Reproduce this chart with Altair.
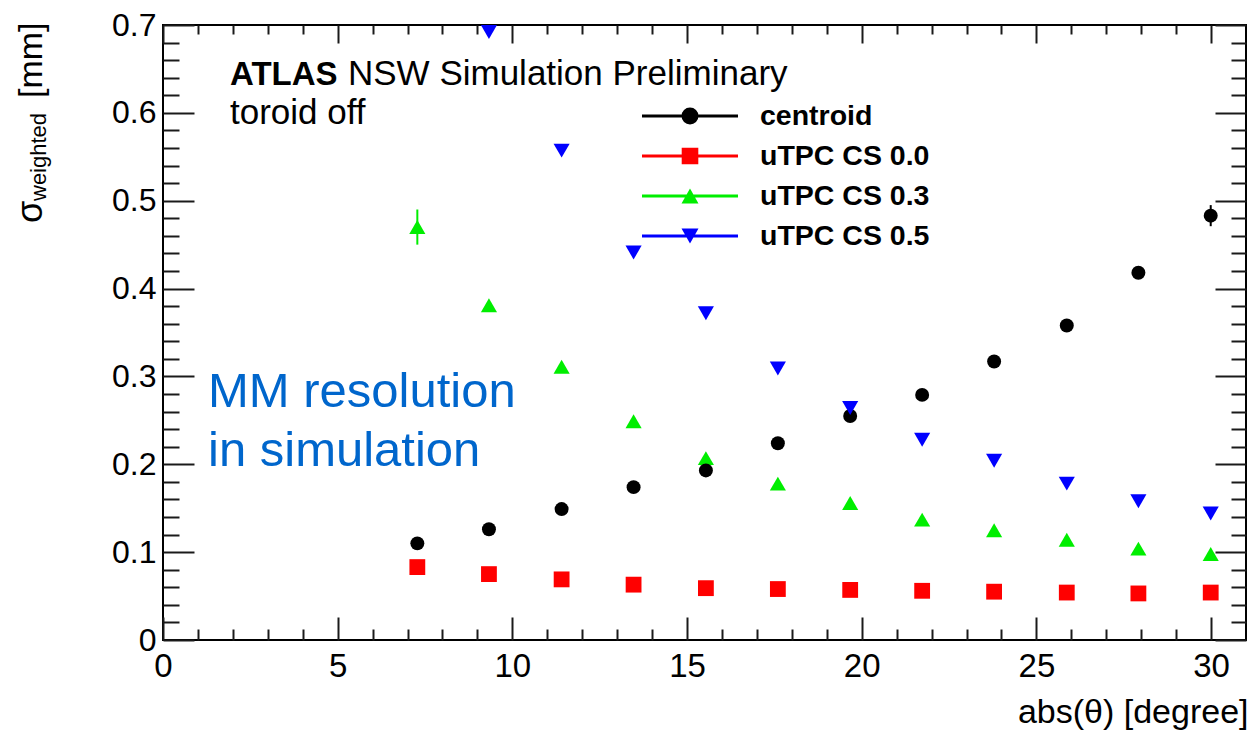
import math
import altair as alt
import pandas as pd

# ---------------- data ----------------
theta = [7.28, 9.33, 11.41, 13.47, 15.54, 17.60, 19.67, 21.73, 23.79, 25.87, 27.92, 29.99]
centroid = [0.110, 0.126, 0.149, 0.174, 0.193, 0.224, 0.255, 0.279, 0.317, 0.358, 0.418, 0.483]
centroid_err = [0.002, 0.002, 0.002, 0.003, 0.003, 0.003, 0.004, 0.004, 0.005, 0.005, 0.006, 0.012]
cs00 = [0.083, 0.075, 0.069, 0.063, 0.059, 0.058, 0.057, 0.056, 0.055, 0.054, 0.053, 0.054]
cs00_err = [0.001, 0.001, 0.001, 0.001, 0.001, 0.001, 0.001, 0.001, 0.001, 0.001, 0.001, 0.001]
cs03 = [0.470, 0.381, 0.311, 0.249, 0.207, 0.178, 0.156, 0.137, 0.125, 0.114, 0.104, 0.098]
cs03_err = [0.020, 0.004, 0.003, 0.003, 0.002, 0.002, 0.002, 0.002, 0.002, 0.002, 0.002, 0.002]
cs05 = [None, 0.692, 0.557, 0.441, 0.372, 0.309, 0.264, 0.228, 0.204, 0.178, 0.158, 0.144]
cs05_err = [None, 0.004, 0.004, 0.004, 0.004, 0.003, 0.003, 0.003, 0.002, 0.002, 0.002, 0.002]

series_names = ["centroid", "uTPC CS 0.0", "uTPC CS 0.3", "uTPC CS 0.5"]
series_colors = ["#000000", "#ff0000", "#00ee00", "#0000ff"]

x_major = [0, 5, 10, 15, 20, 25, 30]
x_minor = [i for i in range(0, 31) if i % 5 != 0]
y_major = [0, 0.1, 0.2, 0.3, 0.4, 0.5, 0.6, 0.7]
y_minor = [round(i * 0.02, 2) for i in range(0, 36) if i % 5 != 0]

# ---------------- table ----------------
rows = []
for name, vals, errs in zip(series_names, [centroid, cs00, cs03, cs05],
                            [centroid_err, cs00_err, cs03_err, cs05_err]):
    for t, v, e in zip(theta, vals, errs):
        if v is None:
            continue
        rows.append({"theta": t, "sigma": v, "lo": v - e, "hi": v + e, "series": name})
df = pd.DataFrame(rows)

# ---------------- layout constants ----------------
W, H = 1083, 615
FONT = "Liberation Sans"
TICK = "#1a1a1a"

xs = alt.Scale(domain=[0, 31], nice=False, zero=False)
ys = alt.Scale(domain=[0, 0.7], nice=False, zero=False)
color_scale = alt.Scale(domain=series_names, range=series_colors)


def tick_axis(orient, offset, values, size):
    return alt.Axis(orient=orient, offset=offset, values=values, tickSize=size,
                    tickWidth=2, tickColor=TICK, labels=False, domain=False,
                    grid=False, title=None)


ax_labels = alt.Axis(orient="bottom", values=x_major, ticks=False, domain=False, grid=False,
                     labelFont=FONT, labelFontSize=33, labelColor="#000", labelPadding=10,
                     labelFlush=False, labelOverlap=False, format="d",
                     title="abs(θ) [degree]", titleFont=FONT, titleFontSize=34,
                     titleFontWeight="normal", titleColor="#000", titleAlign="right",
                     titleAnchor="end", titleBaseline="alphabetic", titleX=W + 2, titleY=82)
ay_labels = alt.Axis(orient="left", values=y_major, ticks=False, domain=False, grid=False,
                     labelFont=FONT, labelFontSize=32, labelColor="#000", labelPadding=7,
                     labelFlush=False, labelOverlap=False,
                     labelExpr="datum.value == 0 ? '0' : format(datum.value, '.1f')",
                     title=None)

ax_bot_major = tick_axis("top", -H, x_major, 23)
ax_bot_minor = tick_axis("top", -H, x_minor, 11)
ax_top_major = tick_axis("bottom", -H, x_major, 18)
ax_top_minor = tick_axis("bottom", -H, x_minor, 9)
ay_left_major = tick_axis("right", -W, y_major, 31)
ay_left_minor = tick_axis("right", -W, y_minor, 16)
ay_right_major = tick_axis("left", -W, y_major, 31)
ay_right_minor = tick_axis("left", -W, y_minor, 15)

# ---------------- legend symbols: line with marker ----------------
SYM = 729
K = math.sqrt(SYM) / 2.0


def f(v):
    return f"{v / K:.4f}"


def circle(r):
    return f"M{f(r)},0A{f(r)},{f(r)},0,1,1,{f(-r)},0A{f(r)},{f(r)},0,1,1,{f(r)},0Z"


def square(h):
    return f"M{f(-h)},{f(-h)}H{f(h)}V{f(h)}H{f(-h)}Z"


def poly(pts):
    return "M" + "L".join(f"{f(x)},{f(y)}" for x, y in pts) + "Z"


line = f"M{f(-48)},0H{f(48)}"
tri_up_outer = [(0, -4.4), (5.9, 5.9), (-5.9, 5.9)]
tri_up_inner = [(0, 0.2), (2.1, 3.8), (-2.1, 3.8)]
legend_paths = [
    line + circle(7.0) + circle(4.0) + circle(1.2),
    line + square(6.8) + square(3.8) + square(1.0),
    line + poly(tri_up_outer) + poly(tri_up_inner),
    line + poly([(x, -y) for x, y in tri_up_outer]) + poly([(x, -y) for x, y in tri_up_inner]),
]

leg = alt.Legend(title=None, orient="none", legendX=512, legendY=76, direction="vertical",
                 symbolSize=SYM, symbolStrokeWidth=3, symbolOpacity=1,
                 labelFont=FONT, labelFontSize=28.5, labelFontWeight="bold", labelColor="#000",
                 labelLimit=400, labelOffset=55, rowPadding=10, padding=0)

# ---------------- layers ----------------
legend_layer = alt.Chart(pd.DataFrame({"series": series_names})).mark_point(
    filled=False, opacity=0
).encode(
    color=alt.Color("series:N", scale=color_scale, legend=leg),
    shape=alt.Shape("series:N", scale=alt.Scale(domain=series_names, range=legend_paths), legend=leg),
)

err_layer = alt.Chart(df).mark_rule(strokeWidth=2).encode(
    x=alt.X("theta:Q", scale=xs, axis=ax_top_minor),
    y=alt.Y("lo:Q", scale=ys, axis=ay_right_minor),
    y2="hi:Q",
    color=alt.Color("series:N", scale=color_scale, legend=None),
)


def points(name, shape, color, size, xaxis, yaxis):
    return alt.Chart(df).transform_filter(alt.datum.series == name).mark_point(
        filled=True, shape=shape, color=color, size=size, opacity=1
    ).encode(
        x=alt.X("theta:Q", scale=xs, axis=xaxis),
        y=alt.Y("sigma:Q", scale=ys, axis=yaxis),
    )


red_layer = points("uTPC CS 0.0", "square", "#ff0000", 250, ax_bot_major, ay_left_major)
green_layer = points("uTPC CS 0.3", "triangle-up", "#00ee00", 260, ax_bot_minor, ay_left_minor)
black_layer = points("centroid", "circle", "#000000", 195, ax_labels, ay_labels)
blue_layer = points("uTPC CS 0.5", "triangle-down", "#0000ff", 260, ax_top_major, ay_right_major)


def note(text, x, y, size, weight="normal", color="#000", angle=0):
    return alt.Chart(alt.Data(values=[{"t": text}])).mark_text(
        font=FONT, fontSize=size, fontWeight=weight, color=color, align="left",
        baseline="alphabetic", angle=angle
    ).encode(text="t:N", x=alt.value(x), y=alt.value(y))


notes = [
    note("ATLAS", 67, 60, 33, weight="bold"),
    note("NSW Simulation Preliminary", 185, 60, 35),
    note("toroid off", 67, 99, 35),
    note("MM resolution", 45, 382, 49, color="#0066cc"),
    note("in simulation", 45, 441, 49, color="#0066cc"),
    note("σ", -121, 198, 36, angle=270),
    note("weighted", -117, 176, 22, angle=270),
    note("[mm]", -121, 73, 34, angle=270),
]

chart = alt.layer(
    legend_layer, err_layer, red_layer, green_layer, black_layer, blue_layer, *notes
).resolve_axis(
    x="independent", y="independent"
).properties(
    width=W, height=H,
    autosize=alt.AutoSizeParams(type="none"),
    padding={"left": 155, "top": 17, "right": 1, "bottom": 90},
    background="#ffffff",
).configure_view(
    stroke="#000", strokeWidth=2
).configure_axis(
    grid=False
)

chart.save("out.html", embed_options={"renderer": "svg", "actions": False})
